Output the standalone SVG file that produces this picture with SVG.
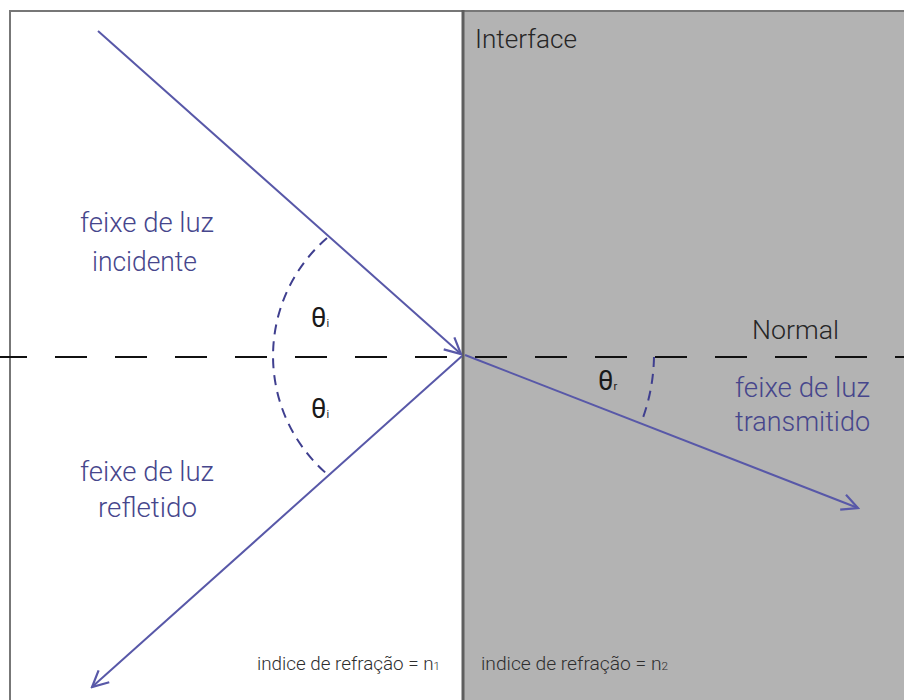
<svg xmlns="http://www.w3.org/2000/svg" width="904" height="700" viewBox="0 0 904 700">
<style>
.ray{stroke:#5858a8;stroke-width:2;fill:none}
.arc{stroke:#3f3f8f;stroke-width:2;fill:none;stroke-dasharray:10 7}
.normal{stroke:#111;stroke-width:2;stroke-dasharray:32 28}
.lbl{font-family:Roboto,"Liberation Sans",sans-serif;font-weight:300;font-size:28px;fill:#46468c}
.dark{font-family:Roboto,"Liberation Sans",sans-serif;font-weight:300;font-size:25px;fill:#262626}
.th{font-family:Roboto,"Liberation Sans",sans-serif;font-size:27px;fill:#1a1a1a}
.small{font-family:Roboto,"Liberation Sans",sans-serif;font-weight:300;font-size:18px;fill:#2e2e2e}
.sub{font-size:11px}
</style>
<defs>
<marker id="ah" viewBox="0 0 20 20" refX="18" refY="10" markerWidth="20" markerHeight="20" markerUnits="userSpaceOnUse" orient="auto">
<path d="M2,2 L18,10 L2,18" fill="none" stroke="#5858a8" stroke-width="2.2"/>
</marker>
</defs>
<rect width="904" height="700" fill="#fff"/>
<g id="media">
<rect x="463" y="11" width="445" height="695" fill="#b3b3b3"/>
<rect x="10" y="11" width="900" height="700" fill="none" stroke="#777" stroke-width="2"/>
<line x1="463" y1="10" x2="463" y2="700" stroke="#5e5e5e" stroke-width="3"/>
</g>
<g id="connectors">
<line class="normal" x1="-5" y1="357" x2="904" y2="357"/>
<line class="ray" x1="98" y1="31" x2="461" y2="354" marker-end="url(#ah)"/>
<line class="ray" x1="462" y1="356" x2="92" y2="687" marker-end="url(#ah)"/>
<line class="ray" x1="465" y1="355" x2="858" y2="508" marker-end="url(#ah)"/>
<path class="arc" d="M327,238 A156,156 0 0 0 327,474"/>
<path class="arc" d="M654,357 A190,190 0 0 1 641,423"/>
</g>
<g id="labels">
<text class="dark" x="475" y="48" textLength="102" lengthAdjust="spacingAndGlyphs">Interface</text>
<text class="lbl" x="80" y="232" textLength="134" lengthAdjust="spacingAndGlyphs">feixe de luz</text>
<text class="lbl" x="92" y="271" textLength="105" lengthAdjust="spacingAndGlyphs">incidente</text>
<text class="lbl" x="80" y="481" textLength="134" lengthAdjust="spacingAndGlyphs">feixe de luz</text>
<text class="lbl" x="98" y="517" textLength="99" lengthAdjust="spacingAndGlyphs">refletido</text>
<text class="lbl" x="735" y="397" textLength="135" lengthAdjust="spacingAndGlyphs">feixe de luz</text>
<text class="lbl" x="735" y="431" textLength="135" lengthAdjust="spacingAndGlyphs">transmitido</text>
<text class="dark" x="752" y="339" textLength="87" lengthAdjust="spacingAndGlyphs">Normal</text>
<text class="th" x="311" y="327">θ<tspan class="sub">i</tspan></text>
<text class="th" x="311" y="418">θ<tspan class="sub">i</tspan></text>
<text class="th" x="598" y="390">θ<tspan class="sub">r</tspan></text>
<text class="small" x="257" y="670" textLength="183" lengthAdjust="spacingAndGlyphs">indice de refração = n<tspan class="sub">1</tspan></text>
<text class="small" x="481" y="670" textLength="187" lengthAdjust="spacingAndGlyphs">indice de refração = n<tspan class="sub">2</tspan></text>
</g>
</svg>
